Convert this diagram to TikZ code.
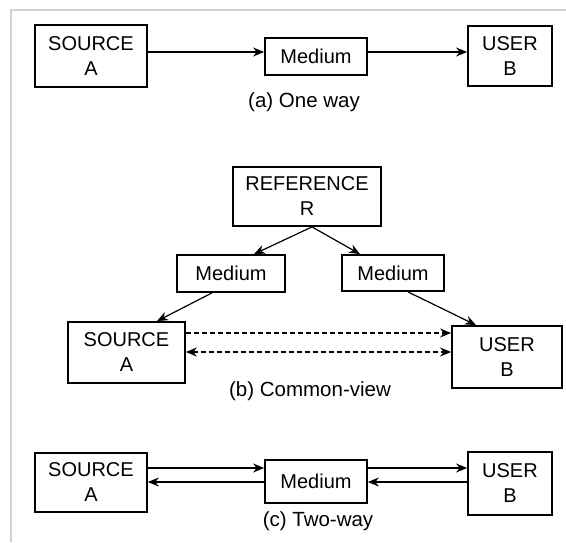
\documentclass[tikz,border=0pt]{standalone}
\usepackage{fontspec}
\setmainfont{Liberation Sans}
\usetikzlibrary{arrows.meta}
\begin{document}
\begin{tikzpicture}[x=1pt, y=-1pt]
	\tikzstyle{box}     = [draw=black, line width=1.8pt, inner sep=0pt, align=center, font=\fontsize{20}{25}\selectfont]
	\tikzstyle{link}    = [line width=1.2pt, -{Stealth[length=11pt, width=9pt]}]
	\tikzstyle{caption} = [font=\fontsize{20.5}{25}\selectfont]

	\useasboundingbox (0,0) rectangle (566,542);
	\draw[gray!35, line width=1.5pt] (11,542) -- (11,10) -- (566,10);

	% boxes: name/x/y/width/height/text
	\foreach \name/\x/\y/\w/\h/\txt in {
			srcA/91/56/112/62/{SOURCE\\A}, medA/316/56.5/102/37/{Medium}, usrA/510/56/84/60/{USER\\B},
			refB/307/196.5/148/59/{REFERENCE\\R}, medBL/231/273.5/108/37/{Medium}, medBR/393/273/102/36/{Medium},
			srcB/126.5/352.5/117/61/{SOURCE\\A}, usrB/507/357/110/62/{USER\\B},
			srcC/91/482.5/112/59/{SOURCE\\A}, medC/316/481.5/102/43/{Medium}, usrC/510/483.5/84/63/{USER\\B}}
		\node[box, minimum width={\w pt}, minimum height={\h pt}] (\name) at (\x, \y) {\txt};

	\node[caption] (capA) at (304, 102) {(a) One way};
	\node[caption] (capB) at (310, 391) {(b) Common-view};
	\node[caption] (capC) at (318, 521) {(c) Two-way};

	% (a) one way
	\draw[link] ([yshift=4pt]srcA.east) -- ([yshift=4.5pt]medA.west);
	\draw[link] ([yshift=4.5pt]medA.east) -- ([yshift=4pt]usrA.west);

	% (b) common view
	\draw[link] ([xshift=5pt]refB.south) -- ([xshift=23pt]medBL.north);
	\draw[link] ([xshift=5pt]refB.south) -- ([xshift=-33pt]medBR.north);
	\draw[link] ([xshift=-19pt]medBL.south) -- ([xshift=30.5pt]srcB.north);
	\draw[link] ([xshift=15pt]medBR.south) -- ([xshift=-31pt]usrB.north);
	\draw[link, dash pattern=on 5pt off 3pt] ([yshift=19.5pt]srcB.east) -- ([yshift=24pt]usrB.west);
	\draw[link, {Stealth[length=11pt, width=9pt]}-{Stealth[length=11pt, width=9pt]}, dash pattern=on 5pt off 3pt] ([yshift=0.5pt]srcB.east) -- ([yshift=5pt]usrB.west);

	% (c) two way
	\draw[link] ([yshift=14.5pt]srcC.east) -- ([yshift=13.5pt]medC.west);
	\draw[link] ([yshift=13.5pt]medC.east) -- ([yshift=15.5pt]usrC.west);
	\draw[link] ([yshift=-0.5pt]medC.west) -- ([yshift=0.5pt]srcC.east);
	\draw[link] ([yshift=1.5pt]usrC.west) -- ([yshift=-0.5pt]medC.east);
\end{tikzpicture}
\end{document}
